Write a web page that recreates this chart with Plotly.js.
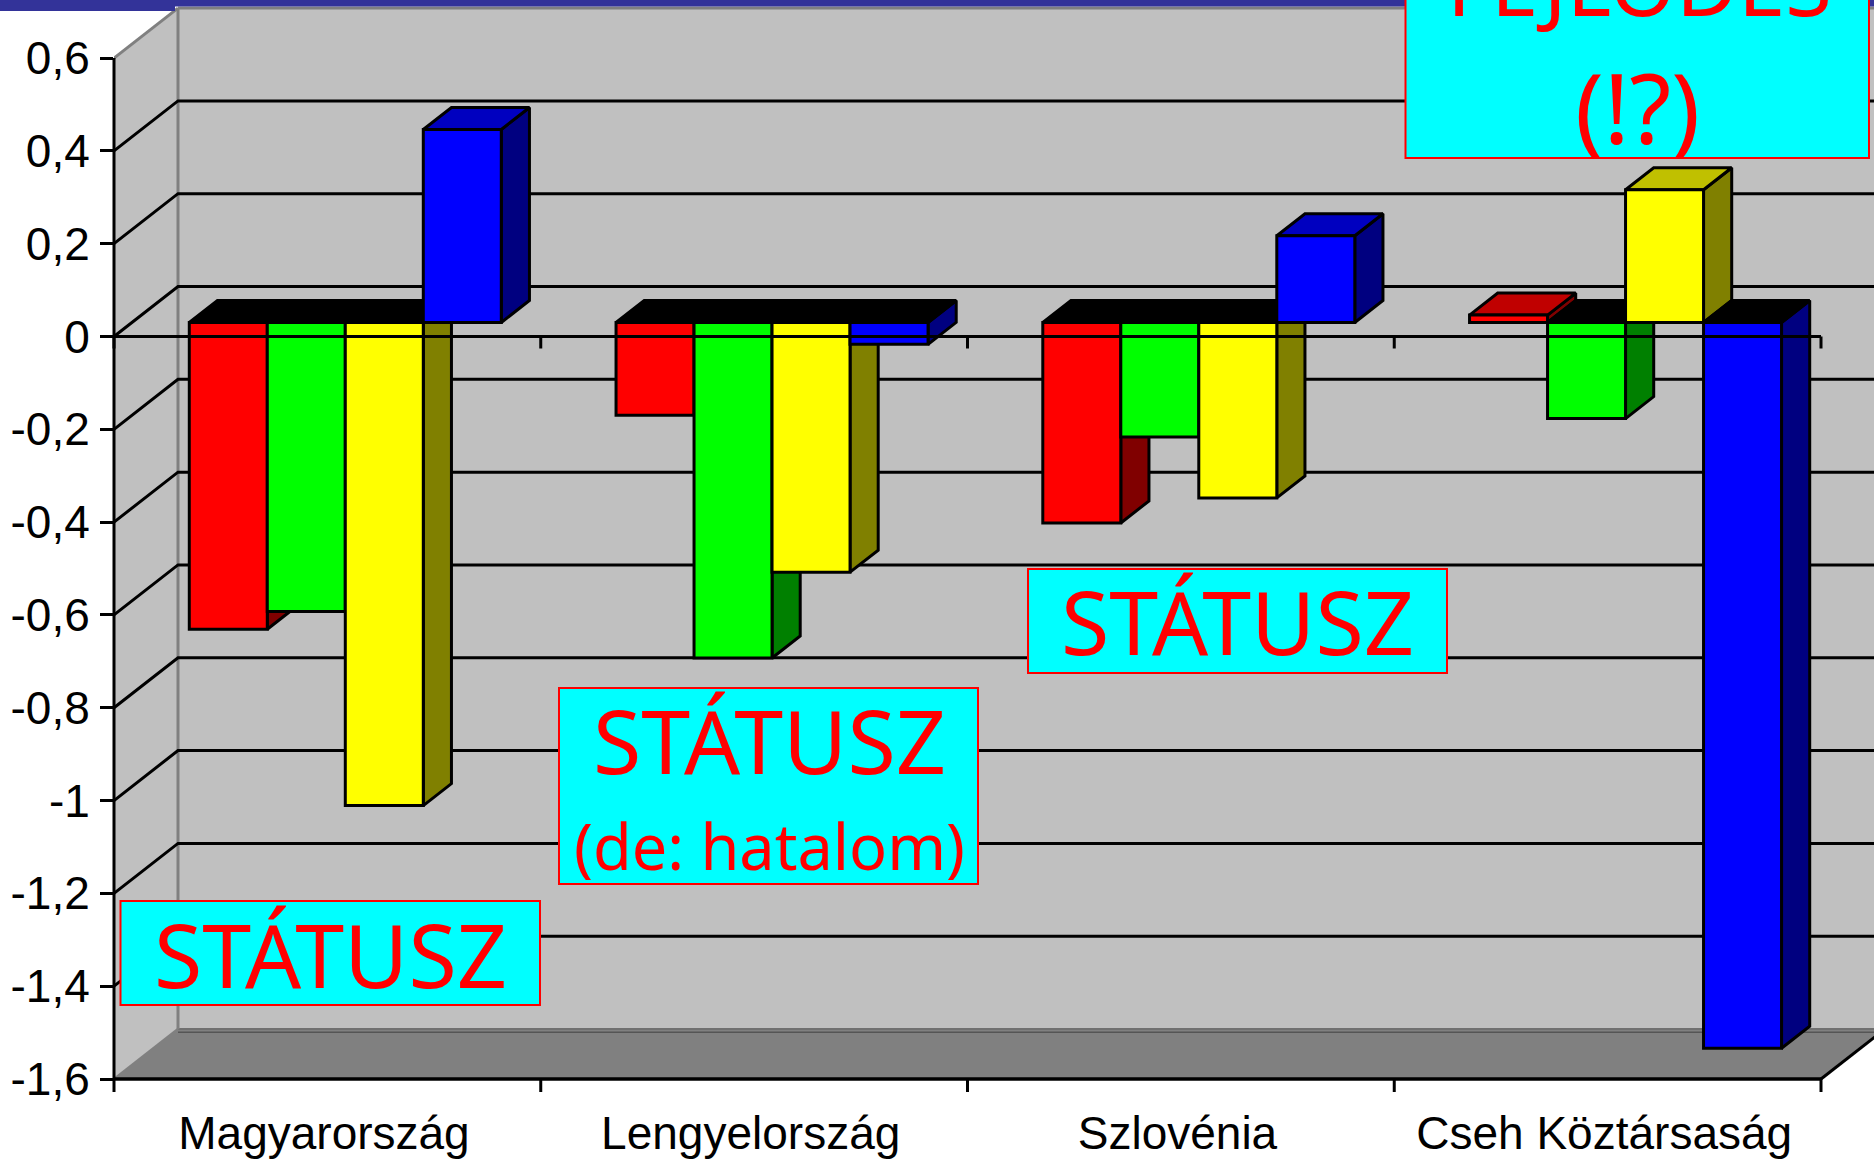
<!DOCTYPE html>
<html><head><meta charset="utf-8">
<script src="https://cdn.plot.ly/plotly-3.0.1.min.js"></script>
<style>html,body{margin:0;padding:0;background:#fff;overflow:hidden}#c{width:1874px;height:1160px}</style>
</head><body><div id="c"></div>
<script>
const categories = ['Magyarország','Lengyelország','Szlovénia','Cseh Köztársaság'];
const redValues    = [-0.661,-0.2,-0.432,0.016];
const greenValues  = [-0.623,-0.723,-0.247,-0.207];
const yellowValues = [-1.041,-0.538,-0.378,0.286];
const blueValues   = [0.416,-0.047,0.187,-1.564];
const yTickValues = [0.6,0.4,0.2,0,-0.2,-0.4,-0.6,-0.8,-1,-1.2,-1.4,-1.6];
const yTickLabels = ['0,6','0,4','0,2','0','-0,2','-0,4','-0,6','-0,8','-1','-1,2','-1,4','-1,6'];
const gridValues = [0.4,0.2,0,-0.2,-0.4,-0.6,-0.8,-1,-1.2,-1.4];

const W=1874,H=1160,L=114,B=1079,CW=426.75,Y0=336.5,VH=(B-Y0)/1.6;
const DC=64/CW, DV=50/VH, Z1=0.28, Z2=0.72, BW=78/CW;
const xMax=(W-L)/CW, yTop=Y0/VH, yBot=-1.6;
const X=(c,z)=>c+DC*z, V=(v,z)=>v+DV*z;
const PX=p=>(p-L)/(W-L), PY=p=>(B-p)/B;
const PXc=c=>c*CW/(W-L), PYv=v=>(v+1.6)*VH/B;
const series=[
 {name:'Piros',vals:redValues,front:'#FF0000',side:'#800000',top:'#C00000'},
 {name:'Zöld',vals:greenValues,front:'#00FF00',side:'#008000',top:'#00C000'},
 {name:'Sárga',vals:yellowValues,front:'#FFFF00',side:'#808000',top:'#C0C000'},
 {name:'Kék',vals:blueValues,front:'#0000FF',side:'#000080',top:'#0000C0'}];

const traces=[];
const poly=(xs,ys,fill)=>({type:'scatter',mode:'lines',x:xs.concat(xs[0]),y:ys.concat(ys[0]),fill:'toself',fillcolor:fill,
  line:{color:'#000',width:3},hoverinfo:'skip',showlegend:false,xaxis:'x',yaxis:'y'});
gridValues.forEach(v=>traces.push({type:'scatter',mode:'lines',x:[0,X(0,1),X(4,1)+1],y:[v,V(v,1),V(v,1)],
  line:{color:'#000',width:3},hoverinfo:'skip',showlegend:false,xaxis:'x',yaxis:'y'}));
const start=(1-4*BW)/2;
series.forEach((s,si)=>s.vals.forEach((v,g)=>{
  const cl=g+start+si*BW, cr=cl+BW, lvl=Math.max(v,0);
  traces.push(poly([X(cr,Z1),X(cr,Z2),X(cr,Z2),X(cr,Z1)],[V(0,Z1),V(0,Z2),V(v,Z2),V(v,Z1)],s.side));
  traces.push(poly([X(cl,Z1),X(cr,Z1),X(cr,Z2),X(cl,Z2)],[V(lvl,Z1),V(lvl,Z1),V(lvl,Z2),V(lvl,Z2)],v<0?'#000':s.top));
}));
series.forEach(s=>traces.push({type:'bar',name:s.name,x:categories,y:s.vals,xaxis:'x2',yaxis:'y2',
  marker:{color:s.front,line:{color:'#000',width:3}},hoverinfo:'skip',showlegend:false}));

const path=pts=>'M'+pts.map(p=>p[0]+','+p[1]).join('L')+'Z';
const dl=(x0,y0,x1,y1,color,width,layer)=>({type:'line',xref:'x',yref:'y',x0,y0,x1,y1,line:{color,width},layer:layer||'above'});
const al=(c0,v0,c1,v1,color,width)=>({type:'line',xref:'paper',yref:'paper',x0:PXc(c0),y0:PYv(v0),x1:PXc(c1),y1:PYv(v1),line:{color,width},layer:'above'});
const shapes=[
 {type:'path',xref:'x',yref:'y',layer:'below',path:path([[0,0.6],[X(0,1),V(0.6,1)],[xMax+1,V(0.6,1)],[xMax+1,V(-1.6,1)],[X(0,1),V(-1.6,1)],[0,-1.6]]),fillcolor:'#C0C0C0',line:{width:0}},
 {type:'path',xref:'x',yref:'y',layer:'below',path:path([[0,-1.6],[X(0,1),V(-1.6,1)],[X(4,1),V(-1.6,1)],[4,-1.6]]),fillcolor:'#808080',line:{width:0}},
 dl(X(0,1),V(-1.6,1)-0.007,X(4,1),V(-1.6,1)-0.007,'#555',1.5,'below'),
 dl(X(0,1),V(-1.6,1),X(4,1),V(-1.6,1),'#707070',2,'below'),
 dl(0,0.6,X(0,1),V(0.6,1),'#808080',3,'below'),
 dl(X(0,1),V(0.6,1),xMax+1,V(0.6,1),'#808080',3,'below'),
 dl(X(0,1),V(0.6,1),X(0,1),V(-1.6,1),'#808080',3,'below'),
 dl(0,-1.6,X(0,1),V(-1.6,1),'#808080',2.5,'below'),
 al(0,0.6,0,-1.6,'#000',3),
 al(0,-1.6,4,-1.6,'#000',3.5),
 al(4,-1.6,X(4,1),V(-1.6,1),'#000',3),
 al(0,0,4,0,'#000',3),
];
[0,1,2,3,4].forEach(c=>shapes.push(al(c,0,c,-12/VH,'#000',3)));
[0,1,2,3,4].forEach(c=>shapes.push(al(c,-1.6,c,-1.6-13/VH,'#000',3)));
shapes.push({type:'rect',xref:'paper',yref:'paper',x0:PX(0),x1:PX(W),y0:PY(6.5),y1:PY(0),fillcolor:'#333399',line:{width:0},layer:'above'});
shapes.push({type:'rect',xref:'paper',yref:'paper',x0:PX(0),x1:PX(175),y0:PY(11),y1:PY(0),fillcolor:'#333399',line:{width:0},layer:'above'});
const box=(x0,y0,x1,y1)=>({type:'rect',xref:'paper',yref:'paper',x0:PX(x0),x1:PX(x1),y0:PY(y1),y1:PY(y0),fillcolor:'#00FFFF',line:{color:'#FF0000',width:2},layer:'above'});
shapes.push(box(120.5,901,540,1005),box(559,688,978,884),box(1028,569,1447,673),box(1405.5,-40,1869,158));

const FONT='"Noto Sans", sans-serif';
const label=(t,cx,base,size)=>({text:t,xref:'paper',yref:'paper',x:PX(cx),y:PY(base-0.36*size),xanchor:'center',yanchor:'middle',showarrow:false,
  font:{family:FONT,size,color:'#FF0000'},borderpad:0});
const annotations=[
 label('STÁTUSZ',330.5,986,88),
 label('STÁTUSZ',769,772,88),
 label('(de: hatalom)',769,868,63),
 label('STÁTUSZ',1237.5,652.5,88),
 label('FEJLŐDÉS',1639,14,85),
 label('(!?)',1637.5,141,96),
];

const layout={
 width:W,height:H,margin:{l:L,r:0,t:0,b:H-B,pad:0},paper_bgcolor:'#FFF',plot_bgcolor:'rgba(0,0,0,0)',showlegend:false,
 barmode:'group',bargap:1-4*BW,bargroupgap:0,dragmode:false,
 xaxis:{type:'linear',range:[0,xMax],showgrid:false,zeroline:false,showline:false,tickmode:'array',
   tickvals:categories.map((_,i)=>i+0.492),ticktext:categories,ticks:'',ticklabelstandoff:23,
   tickfont:{family:'"Liberation Sans",Arial,sans-serif',size:46,color:'#000'}},
 yaxis:{type:'linear',range:[yBot,yTop],showgrid:false,zeroline:false,showline:false,tickmode:'array',
   tickvals:yTickValues,ticktext:yTickLabels,ticks:'outside',ticklen:13,tickwidth:3,tickcolor:'#000',ticklabelstandoff:1,
   tickfont:{family:'"Liberation Sans",Arial,sans-serif',size:46,color:'#000'}},
 xaxis2:{type:'category',overlaying:'x',visible:false,categoryorder:'array',categoryarray:categories,range:[-0.5-DC*Z1,xMax-0.5-DC*Z1]},
 yaxis2:{type:'linear',overlaying:'y',visible:false,range:[yBot-DV*Z1,yTop-DV*Z1]},
 shapes,annotations
};
Plotly.newPlot('c',traces,layout,{displayModeBar:false,staticPlot:true});
</script></body></html>
